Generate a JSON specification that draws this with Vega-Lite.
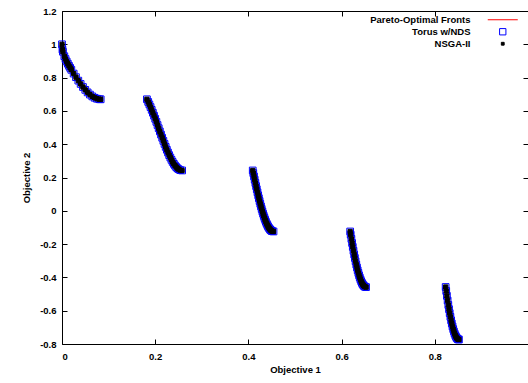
{
  "$schema": "https://vega.github.io/schema/vega-lite/v6.json",
  "width": 466,
  "height": 333,
  "autosize": {"type": "none"},
  "padding": {"left": 62, "top": 11, "right": 0, "bottom": 39},
  "background": "white",
  "config": {
    "view": {"stroke": "black", "strokeWidth": 1},
    "font": "Liberation Sans",
    "axis": {
      "domain": false,
      "grid": false,
      "tickColor": "black",
      "tickSize": -5,
      "tickWidth": 1,
      "labelFont": "Liberation Sans",
      "labelFontWeight": "bold",
      "labelFontSize": 9.5,
      "labelColor": "black",
      "titleFont": "Liberation Sans",
      "titleFontWeight": "bold",
      "titleFontSize": 9.5,
      "titleColor": "black"
    }
  },
  "datasets": {
    "front": [
      {"x": 0, "y": 1, "seg": 1}, {"x": 0.001, "y": 0.96835, "seg": 1}, {"x": 0.002, "y": 0.95515, "seg": 1}, {"x": 0.005, "y": 0.92851, "seg": 1}, {"x": 0.0075, "y": 0.91165, "seg": 1}, {"x": 0.01, "y": 0.89691, "seg": 1}, {"x": 0.0125, "y": 0.88341, "seg": 1}, {"x": 0.015, "y": 0.87072, "seg": 1}, {"x": 0.0175, "y": 0.85857, "seg": 1}, {"x": 0.02, "y": 0.84682, "seg": 1}, {"x": 0.025, "y": 0.82421, "seg": 1}, {"x": 0.03, "y": 0.80252, "seg": 1}, {"x": 0.035, "y": 0.78173, "seg": 1}, {"x": 0.04, "y": 0.76196, "seg": 1}, {"x": 0.045, "y": 0.74342, "seg": 1}, {"x": 0.05, "y": 0.72639, "seg": 1}, {"x": 0.055, "y": 0.71116, "seg": 1}, {"x": 0.06, "y": 0.69799, "seg": 1}, {"x": 0.065, "y": 0.68713, "seg": 1}, {"x": 0.07, "y": 0.67879, "seg": 1}, {"x": 0.075, "y": 0.67311, "seg": 1}, {"x": 0.08, "y": 0.67014, "seg": 1}, {"x": 0.083, "y": 0.66965, "seg": 1},
      {"x": 0.1822, "y": 0.66981, "seg": 2}, {"x": 0.185, "y": 0.65387, "seg": 2}, {"x": 0.1875, "y": 0.63874, "seg": 2}, {"x": 0.19, "y": 0.62282, "seg": 2}, {"x": 0.1925, "y": 0.60619, "seg": 2}, {"x": 0.195, "y": 0.58891, "seg": 2}, {"x": 0.1975, "y": 0.57109, "seg": 2}, {"x": 0.2, "y": 0.55279, "seg": 2}, {"x": 0.2025, "y": 0.53411, "seg": 2}, {"x": 0.205, "y": 0.51516, "seg": 2}, {"x": 0.2075, "y": 0.49604, "seg": 2}, {"x": 0.21, "y": 0.47685, "seg": 2}, {"x": 0.2125, "y": 0.4577, "seg": 2}, {"x": 0.215, "y": 0.43871, "seg": 2}, {"x": 0.2175, "y": 0.41999, "seg": 2}, {"x": 0.22, "y": 0.40165, "seg": 2}, {"x": 0.2225, "y": 0.3838, "seg": 2}, {"x": 0.225, "y": 0.36656, "seg": 2}, {"x": 0.2275, "y": 0.35004, "seg": 2}, {"x": 0.23, "y": 0.33435, "seg": 2}, {"x": 0.2325, "y": 0.31958, "seg": 2}, {"x": 0.235, "y": 0.30584, "seg": 2}, {"x": 0.2375, "y": 0.29324, "seg": 2}, {"x": 0.24, "y": 0.28185, "seg": 2}, {"x": 0.2425, "y": 0.27176, "seg": 2}, {"x": 0.245, "y": 0.26305, "seg": 2}, {"x": 0.2475, "y": 0.25577, "seg": 2}, {"x": 0.25, "y": 0.25, "seg": 2}, {"x": 0.2535, "y": 0.24454, "seg": 2}, {"x": 0.2578, "y": 0.2422, "seg": 2},
      {"x": 0.4093, "y": 0.24231, "seg": 3}, {"x": 0.4105, "y": 0.22633, "seg": 3}, {"x": 0.412, "y": 0.20646, "seg": 3}, {"x": 0.4135, "y": 0.1868, "seg": 3}, {"x": 0.415, "y": 0.16739, "seg": 3}, {"x": 0.4165, "y": 0.14827, "seg": 3}, {"x": 0.418, "y": 0.12949, "seg": 3}, {"x": 0.4195, "y": 0.1111, "seg": 3}, {"x": 0.421, "y": 0.09311, "seg": 3}, {"x": 0.4225, "y": 0.07561, "seg": 3}, {"x": 0.424, "y": 0.0586, "seg": 3}, {"x": 0.4255, "y": 0.04213, "seg": 3}, {"x": 0.427, "y": 0.02625, "seg": 3}, {"x": 0.4285, "y": 0.01099, "seg": 3}, {"x": 0.43, "y": -0.00362, "seg": 3}, {"x": 0.4315, "y": -0.01754, "seg": 3}, {"x": 0.433, "y": -0.03073, "seg": 3}, {"x": 0.4345, "y": -0.04316, "seg": 3}, {"x": 0.436, "y": -0.05481, "seg": 3}, {"x": 0.4375, "y": -0.06564, "seg": 3}, {"x": 0.439, "y": -0.07562, "seg": 3}, {"x": 0.4405, "y": -0.08473, "seg": 3}, {"x": 0.442, "y": -0.09294, "seg": 3}, {"x": 0.4435, "y": -0.10024, "seg": 3}, {"x": 0.445, "y": -0.1066, "seg": 3}, {"x": 0.4465, "y": -0.11201, "seg": 3}, {"x": 0.448, "y": -0.11645, "seg": 3}, {"x": 0.4495, "y": -0.1199, "seg": 3}, {"x": 0.451, "y": -0.12235, "seg": 3}, {"x": 0.4539, "y": -0.12423, "seg": 3},
      {"x": 0.6184, "y": -0.12427, "seg": 4}, {"x": 0.6195, "y": -0.14341, "seg": 4}, {"x": 0.621, "y": -0.16866, "seg": 4}, {"x": 0.6225, "y": -0.19337, "seg": 4}, {"x": 0.624, "y": -0.2171, "seg": 4}, {"x": 0.6255, "y": -0.24017, "seg": 4}, {"x": 0.627, "y": -0.26215, "seg": 4}, {"x": 0.6285, "y": -0.28337, "seg": 4}, {"x": 0.63, "y": -0.30341, "seg": 4}, {"x": 0.6315, "y": -0.32256, "seg": 4}, {"x": 0.633, "y": -0.34046, "seg": 4}, {"x": 0.6345, "y": -0.35737, "seg": 4}, {"x": 0.636, "y": -0.37297, "seg": 4}, {"x": 0.6375, "y": -0.38746, "seg": 4}, {"x": 0.639, "y": -0.40059, "seg": 4}, {"x": 0.6405, "y": -0.41254, "seg": 4}, {"x": 0.642, "y": -0.42308, "seg": 4}, {"x": 0.6435, "y": -0.43234, "seg": 4}, {"x": 0.645, "y": -0.44018, "seg": 4}, {"x": 0.6465, "y": -0.44666, "seg": 4}, {"x": 0.648, "y": -0.4517, "seg": 4}, {"x": 0.65, "y": -0.45623, "seg": 4}, {"x": 0.6525, "y": -0.45826, "seg": 4},
      {"x": 0.8233, "y": -0.45767, "seg": 5}, {"x": 0.8245, "y": -0.4818, "seg": 5}, {"x": 0.826, "y": -0.51098, "seg": 5}, {"x": 0.8275, "y": -0.53891, "seg": 5}, {"x": 0.829, "y": -0.56553, "seg": 5}, {"x": 0.8305, "y": -0.59079, "seg": 5}, {"x": 0.832, "y": -0.61462, "seg": 5}, {"x": 0.8335, "y": -0.63697, "seg": 5}, {"x": 0.835, "y": -0.65777, "seg": 5}, {"x": 0.8365, "y": -0.67699, "seg": 5}, {"x": 0.838, "y": -0.69458, "seg": 5}, {"x": 0.8395, "y": -0.71048, "seg": 5}, {"x": 0.841, "y": -0.72466, "seg": 5}, {"x": 0.8425, "y": -0.7371, "seg": 5}, {"x": 0.844, "y": -0.74774, "seg": 5}, {"x": 0.8455, "y": -0.75658, "seg": 5}, {"x": 0.847, "y": -0.76357, "seg": 5}, {"x": 0.8485, "y": -0.7687, "seg": 5}, {"x": 0.85, "y": -0.77195, "seg": 5}, {"x": 0.8518, "y": -0.77336, "seg": 5}
    ]
  },
  "resolve": {"axis": {"x": "independent", "y": "independent"}},
  "layer": [
    {
      "data": {"name": "front"},
      "mark": {"type": "line", "strokeWidth": 1},
      "encoding": {
        "x": {"field": "x", "type": "quantitative", "scale": {"domain": [0, 1], "nice": false, "zero": false},
          "axis": {"orient": "bottom", "values": [0, 0.2, 0.4, 0.6, 0.8], "labelExpr": "toString(datum.value)", "labelPadding": 12, "title": "Objective 1", "titlePadding": 4}},
        "y": {"field": "y", "type": "quantitative", "scale": {"domain": [-0.8, 1.2], "nice": false, "zero": false},
          "axis": {"orient": "left", "values": [-0.8, -0.6, -0.4, -0.2, 0, 0.2, 0.4, 0.6, 0.8, 1, 1.2], "labelExpr": "toString(datum.value)", "labelPadding": 11, "title": "Objective 2", "titlePadding": 8}},
        "detail": {"field": "seg", "type": "nominal"},
        "stroke": {"datum": "Pareto-Optimal Fronts", "type": "nominal",
          "scale": {"domain": ["Pareto-Optimal Fronts", "Torus w/NDS", "NSGA-II"], "range": ["#ff0000", "#0000ff", "#000000"]},
          "legend": {
            "orient": "none", "legendX": 436, "legendY": 4, "title": null, "padding": 0,
            "labelFont": "Liberation Sans", "labelFontWeight": "bold", "labelFontSize": 9.5, "labelColor": "black",
            "labelAlign": "right", "labelOffset": -37, "symbolSize": 900, "symbolStrokeWidth": 1, "rowPadding": 1,
            "encode": {
              "symbols": {"update": {
                "shape": {"signal": "datum.value === 'Pareto-Optimal Fronts' ? 'stroke' : 'square'"},
                "size": {"signal": "datum.value === 'Pareto-Optimal Fronts' ? 900 : (datum.value === 'Torus w/NDS' ? 40 : 8)"},
                "fill": {"signal": "datum.value === 'NSGA-II' ? '#000000' : 'transparent'"},
                "strokeWidth": {"value": 1}
              }}
            }
          }}
      }
    },
    {
      "data": {"name": "front"},
      "mark": {"type": "point", "shape": "square", "size": 45, "strokeWidth": 1, "filled": false, "opacity": 1},
      "encoding": {
        "x": {"field": "x", "type": "quantitative", "axis": {"orient": "top", "values": [0, 0.2, 0.4, 0.6, 0.8], "labels": false, "title": null}},
        "y": {"field": "y", "type": "quantitative", "axis": {"orient": "right", "values": [-0.8, -0.6, -0.4, -0.2, 0, 0.2, 0.4, 0.6, 0.8, 1, 1.2], "labels": false, "title": null}},
        "stroke": {"datum": "Torus w/NDS", "type": "nominal"}
      }
    },
    {
      "data": {"name": "front"},
      "mark": {"type": "point", "shape": "square", "size": 18, "strokeWidth": 1, "filled": true, "opacity": 1},
      "encoding": {
        "x": {"field": "x", "type": "quantitative", "axis": null},
        "y": {"field": "y", "type": "quantitative", "axis": null},
        "stroke": {"datum": "NSGA-II", "type": "nominal"},
        "fill": {"value": "#000000"}
      }
    }
  ]
}
